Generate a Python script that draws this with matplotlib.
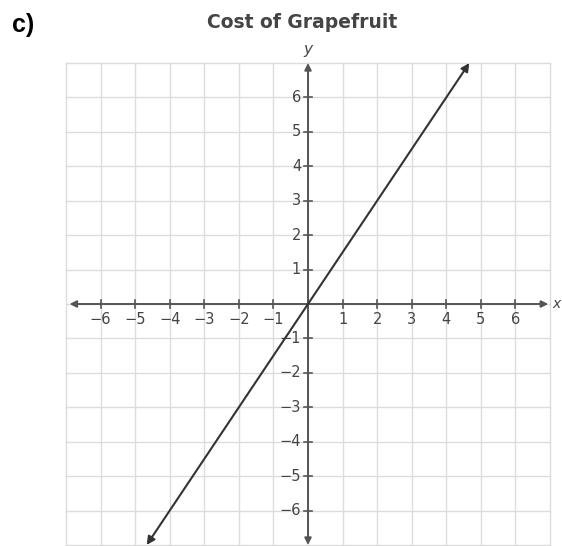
import numpy as np
import matplotlib.pyplot as plt

# Line y = 1.5x drawn across the grid
slope = 1.5
line_x = [-14 / 3, 14 / 3]
line_y = [slope * v for v in line_x]

ticks = [-6, -5, -4, -3, -2, -1, 1, 2, 3, 4, 5, 6]
tick_labels = ['\u2212' + str(-t) if t < 0 else str(t) for t in ticks]
grid_vals = np.arange(-7, 8)

fig = plt.figure(figsize=(5.62, 5.46), dpi=100)
ax = fig.add_axes([66 / 562, 1 / 546, 484 / 562, 482 / 546])
ax.set_xlim(-7, 7)
ax.set_ylim(-7, 7)
ax.axis('off')

grid_c = '#dcdcdc'
for g in grid_vals:
    ax.plot([g, g], [-7, 7], color=grid_c, lw=1, clip_on=False, zorder=1)
    ax.plot([-7, 7], [g, g], color=grid_c, lw=1, clip_on=False, zorder=1)

axis_c = '#555555'
arrow = dict(arrowstyle='<|-|>', color=axis_c, lw=1.4, mutation_scale=10,
             shrinkA=0, shrinkB=0)
ax.annotate('', xy=(6.95, 0), xytext=(-6.9, 0), arrowprops=arrow, zorder=3,
            annotation_clip=False)
ax.annotate('', xy=(0, 7), xytext=(0, -7), arrowprops=arrow, zorder=3,
            annotation_clip=False)

# tick marks crossing the axes
for t in ticks:
    ax.plot([t, t], [-0.13, 0.13], color=axis_c, lw=1.2, zorder=3)
    ax.plot([-0.13, 0.13], [t, t], color=axis_c, lw=1.2, zorder=3)

lbl_c = '#444444'
for t, s in zip(ticks, tick_labels):
    ax.text(t, -0.45, s, ha='center', va='center', fontsize=10.5, color=lbl_c)
    ax.text(-0.2, t, s, ha='right', va='center', fontsize=10.5, color=lbl_c)

ax.text(7.07, 0, 'x', ha='left', va='center', fontsize=10, style='italic',
        color=lbl_c, clip_on=False)
ax.text(0, 7.4, 'y', ha='center', va='center', fontsize=11, style='italic',
        color=lbl_c, clip_on=False)

ax.annotate('', xy=(line_x[1], line_y[1]), xytext=(line_x[0], line_y[0]),
            arrowprops=dict(arrowstyle='<|-|>', color='#333333', lw=1.5,
                            mutation_scale=12, shrinkA=0, shrinkB=0),
            zorder=4, annotation_clip=False)

fig.text(302 / 562, 1 - 23 / 546, 'Cost of Grapefruit', ha='center', va='center',
         fontsize=13.5, fontweight='bold', color='#444444')
fig.text(12 / 562, 1 - 25 / 546, 'c)', ha='left', va='center', fontsize=18,
         fontweight='bold', family='Liberation Sans', color='black')

fig.savefig('out.png', dpi=100)
